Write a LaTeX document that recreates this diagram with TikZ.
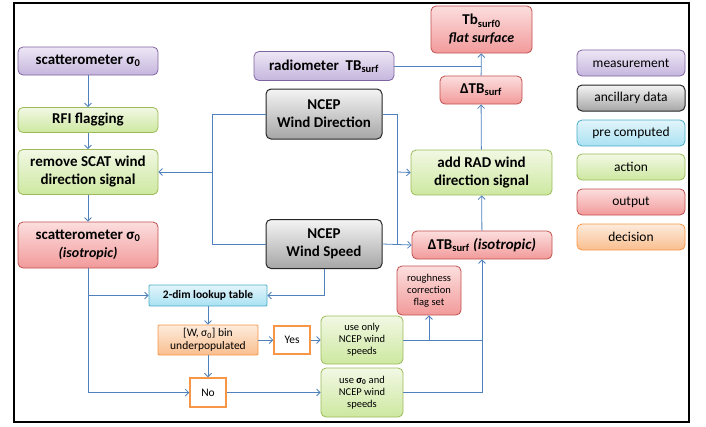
\documentclass[tikz,border=0pt]{standalone}
\usepackage{fontspec}
\setmainfont{Carlito}
\usetikzlibrary{arrows.meta}
\definecolor{arr}{HTML}{4F81BD}
\definecolor{pB}{HTML}{8064A2}\definecolor{pT}{HTML}{EDE7F5}\definecolor{pL}{HTML}{C5B5DD}
\definecolor{gB}{HTML}{262626}\definecolor{gT}{HTML}{F4F4F4}\definecolor{gL}{HTML}{A6A6A6}
\definecolor{cB}{HTML}{4BACC6}\definecolor{cT}{HTML}{E2F5FB}\definecolor{cL}{HTML}{A9E1F2}
\definecolor{aB}{HTML}{9BBB59}\definecolor{aT}{HTML}{F2F8E4}\definecolor{aL}{HTML}{CDE8A0}
\definecolor{rB}{HTML}{C0504D}\definecolor{rT}{HTML}{FCDEDE}\definecolor{rL}{HTML}{F29A9A}
\definecolor{oB}{HTML}{F79646}\definecolor{oT}{HTML}{FDEBDC}\definecolor{oL}{HTML}{F9BE8E}
\tikzset{
  box/.style={rounded corners=5pt, align=center, inner sep=0pt, line width=0.8pt},
  big/.style={font=\fontsize{15}{18}\selectfont\bfseries},
  leg/.style={font=\fontsize{13.5}{16}\selectfont, minimum width=108pt, minimum height=26pt},
  small/.style={font=\fontsize{10.5}{12}\selectfont},
  meas/.style={box, draw=pB, top color=pT, bottom color=pL},
  anc/.style={box, draw=gB, top color=gT, bottom color=gL, line width=1pt},
  pre/.style={box, draw=cB, top color=cT, bottom color=cL},
  act/.style={box, draw=aB, top color=aT, bottom color=aL},
  outp/.style={box, draw=rB, top color=rT, bottom color=rL},
  dec/.style={box, draw=oB, top color=oT, bottom color=oL},
  yn/.style={draw=oB, fill=white, line width=1.5pt, inner sep=0pt, font=\fontsize{11.5}{13}\selectfont},
  con/.style={draw=arr, line width=0.8pt},
  ar/.style={con, -{Straight Barb[length=3.5pt,width=7pt]}}
}
\begin{document}
\begin{tikzpicture}[x=1pt,y=-1pt]
\useasboundingbox (0,0) rectangle (706,426);
\draw[line width=1.5pt] (14,3) rectangle (689,422);
% left column
\node[meas,big,minimum width=140pt,minimum height=28pt] (scat) at (88,61) {scatterometer σ\textsubscript{0}};
\node[act,big,minimum width=140pt,minimum height=25pt] (rfi) at (88,120) {RFI flagging};
\node[act,big,minimum width=140pt,minimum height=45pt] (remove) at (88,172) {remove SCAT wind\\direction signal};
\node[outp,big,minimum width=140pt,minimum height=46pt] (scatiso) at (88,245) {scatterometer σ\textsubscript{0}\\{\fontsize{14}{16}\selectfont\itshape (isotropic)}};
% middle
\node[meas,big,minimum width=140pt,minimum height=29pt] (radio) at (324,66) {radiometer~~TB\textsubscript{surf}};
\node[anc,big,minimum width=116pt,minimum height=50pt] (winddir) at (324,114) {NCEP\\Wind Direction};
\node[anc,big,minimum width=116pt,minimum height=49pt] (windspd) at (324,244) {NCEP\\Wind Speed};
% right column
\node[outp,big,minimum width=101pt,minimum height=47pt] (tb0) at (481.5,29.5) {Tb\textsubscript{surf0}\\{\fontsize{14}{16}\selectfont\itshape flat surface}};
\node[outp,big,minimum width=82pt,minimum height=28pt] (dtb) at (481,90) {ΔTB\textsubscript{surf}};
\node[act,big,minimum width=141pt,minimum height=45pt] (addrad) at (481.5,172.5) {add RAD wind\\direction signal};
\node[outp,big,minimum width=140pt,minimum height=28pt] (dtbiso) at (482,245) {ΔTB\textsubscript{surf} {\itshape (isotropic)}};
\node[outp,small,minimum width=64pt,minimum height=49pt] (rough) at (429,290.5) {roughness\\correction\\flag set};
% lower part
\node[pre,rounded corners=1pt,font=\fontsize{11.5}{13}\selectfont\bfseries,minimum width=118pt,minimum height=21pt] (lookup) at (208,295.5) {2-dim lookup table};
\node[dec,rounded corners=1pt,font=\fontsize{11.5}{13.5}\selectfont,minimum width=100pt,minimum height=30pt] (bin) at (208,340) {[W, σ\textsubscript{0}] bin\\underpopulated};
\node[yn,minimum width=36pt,minimum height=28pt] (yes) at (292,340) {Yes};
\node[yn,minimum width=36pt,minimum height=29pt] (no) at (208,392.5) {No};
\node[act,small,minimum width=82pt,minimum height=48pt] (useonly) at (362,340) {use only\\NCEP wind\\speeds};
\node[act,small,minimum width=82pt,minimum height=49pt] (usesig) at (362,392.5) {use \textbf{σ\textsubscript{0}} and\\NCEP wind\\speeds};
% legend
\node[meas,leg] (l1) at (631,63) {measurement};
\node[anc,leg] (l2) at (631,98) {ancillary data};
\node[pre,leg] (l3) at (631,133) {pre computed};
\node[act,leg] (l4) at (631,167) {action};
\node[outp,leg] (l5) at (631,202) {output};
\node[dec,leg] (l6) at (631,237) {decision};
% helper coordinates
\coordinate (jl) at (212,172);
\coordinate (jr) at (397,172);
\coordinate (jlt) at (88,295.5);
\coordinate (jln) at (88,392.5);
\coordinate (jrt) at (324,295.5);
\coordinate (jro) at (482,340);
\coordinate (jrr) at (429,340);
% connectors
\draw[ar] (scat) -- (rfi);
\draw[ar] (rfi) -- (remove);
\draw[ar] (remove) -- (scatiso);
\draw[con] (winddir.west) -| (212,244) -- (windspd.west);
\draw[ar] (jl) -- (remove.east);
\draw[con] (winddir.east) -| (397,244);
\draw[ar] (windspd.east) -- (dtbiso.west);
\draw[ar] (jr) -- (addrad.west);
\draw[con] (radio.east) -- (dtb.north |- radio.east);
\draw[ar] (dtb) -- (tb0);
\draw[ar] (addrad) -- (dtb);
\draw[ar] (dtbiso) -- (addrad);
\draw[con] (scatiso.south) -- (jln);
\draw[ar] (jln) -- (no.west);
\draw[ar] (jlt) -- (lookup.west);
\draw[con] (windspd.south) -- (jrt);
\draw[ar] (jrt) -- (lookup.east);
\draw[ar] (lookup) -- (bin);
\draw[ar] (bin) -- (yes);
\draw[ar] (yes) -- (useonly);
\draw[ar] (bin) -- (no);
\draw[ar] (no) -- (usesig);
\draw[con] (useonly.east) -- (jro);
\draw[con] (usesig.east) -| (jro);
\draw[ar] (jro) -- (dtbiso.south);
\draw[ar] (jrr) -- (rough.south);
\end{tikzpicture}
\end{document}
